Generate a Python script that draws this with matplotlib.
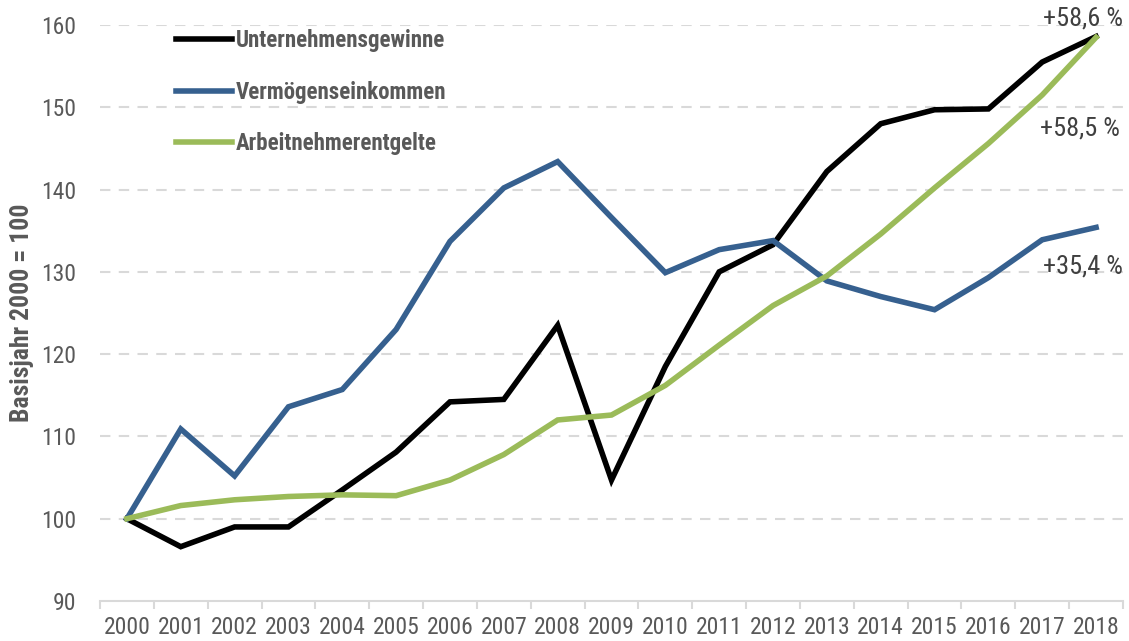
import numpy as np
import matplotlib.pyplot as plt
from matplotlib import font_manager

years = [str(y) for y in range(2000, 2019)]

unternehmen = [100.0, 96.6, 99.0, 99.0, 103.5, 108.1, 114.2, 114.5, 123.5, 104.7,
               118.5, 130.0, 133.3, 142.2, 148.0, 149.7, 149.8, 155.5, 158.6]
vermoegen = [100.0, 110.9, 105.2, 113.6, 115.7, 123.0, 133.7, 140.2, 143.4, 136.6,
             129.9, 132.7, 133.8, 128.9, 127.0, 125.4, 129.3, 133.9, 135.4]
arbeitnehmer = [100.0, 101.6, 102.3, 102.7, 102.9, 102.8, 104.7, 107.8, 112.0, 112.6,
                116.2, 121.1, 125.9, 129.5, 134.6, 140.2, 145.6, 151.5, 158.5]

labels = ["Unternehmensgewinne", "Vermögenseinkommen", "Arbeitnehmerentgelte"]
end_notes = ["+58,6 %", "+35,4 %", "+58,5 %"]

# look for a narrow font, otherwise condensed DejaVu
names = {f.name for f in font_manager.fontManager.ttflist}
fam = "DejaVu Sans"
for cand in ["Liberation Sans Narrow", "Roboto Condensed", "Open Sans Condensed"]:
    if cand in names:
        fam = cand
        break
plt.rcParams['font.family'] = [fam, 'DejaVu Sans']
plt.rcParams['font.stretch'] = 'condensed'

fig = plt.figure(figsize=(11.29, 6.41), dpi=100)
ax = fig.add_axes([100 / 1129, 1 - 601 / 641, 1023 / 1129, 576 / 641])

x = np.arange(len(years))
ax.plot(x, unternehmen, color="black", lw=4, label=labels[0], solid_joinstyle="miter")
ax.plot(x, vermoegen, color="#36608f", lw=4, label=labels[1], solid_joinstyle="miter")
ax.plot(x, arbeitnehmer, color="#9bbb59", lw=4, label=labels[2], solid_joinstyle="miter")

ax.set_xlim(-0.5, len(years) - 0.5)
ax.set_ylim(90, 160)
ax.set_yticks(range(90, 161, 10))
ax.set_xticks(x)
ax.set_xticklabels(years)
ax.set_xticks(np.arange(-0.5, len(years)), minor=True)
ax.tick_params(axis="x", which="major", length=0, labelsize=17, colors="#595959", pad=11)
ax.tick_params(axis="x", which="minor", length=6, width=1.5, color="#d9d9d9", direction="out")
ax.tick_params(axis="y", length=0, labelsize=17, colors="#595959", pad=17)

for v in range(100, 161, 10):
    ax.axhline(v, color="#d9d9d9", lw=1.5, ls=(0, (5, 4)), zorder=0)

for s in ["top", "right", "left"]:
    ax.spines[s].set_visible(False)
ax.spines["bottom"].set_color("#d9d9d9")
ax.spines["bottom"].set_linewidth(1.5)

ax.set_ylabel("Basisjahr 2000 = 100", fontsize=18.5, fontweight="bold", color="#595959", labelpad=5)

leg = ax.legend(loc="upper left", bbox_to_anchor=(0.054, 1.028), frameon=False,
                prop={"family": [fam, "DejaVu Sans"], "weight": "bold", "size": 16.5,
                      "stretch": "condensed"},
                handlelength=2.45, handletextpad=0.15, labelspacing=1.23)
for t in leg.get_texts():
    t.set_color("#595959")

ax.text(18.5, 160.85, end_notes[0], fontsize=19, color="#404040", ha="right", va="center", clip_on=False)
ax.text(18.45, 147.4, end_notes[2], fontsize=19, color="#404040", ha="right", va="center")
ax.text(18.5, 130.6, end_notes[1], fontsize=19, color="#404040", ha="right", va="center")

fig.savefig("out.png", dpi=100)
